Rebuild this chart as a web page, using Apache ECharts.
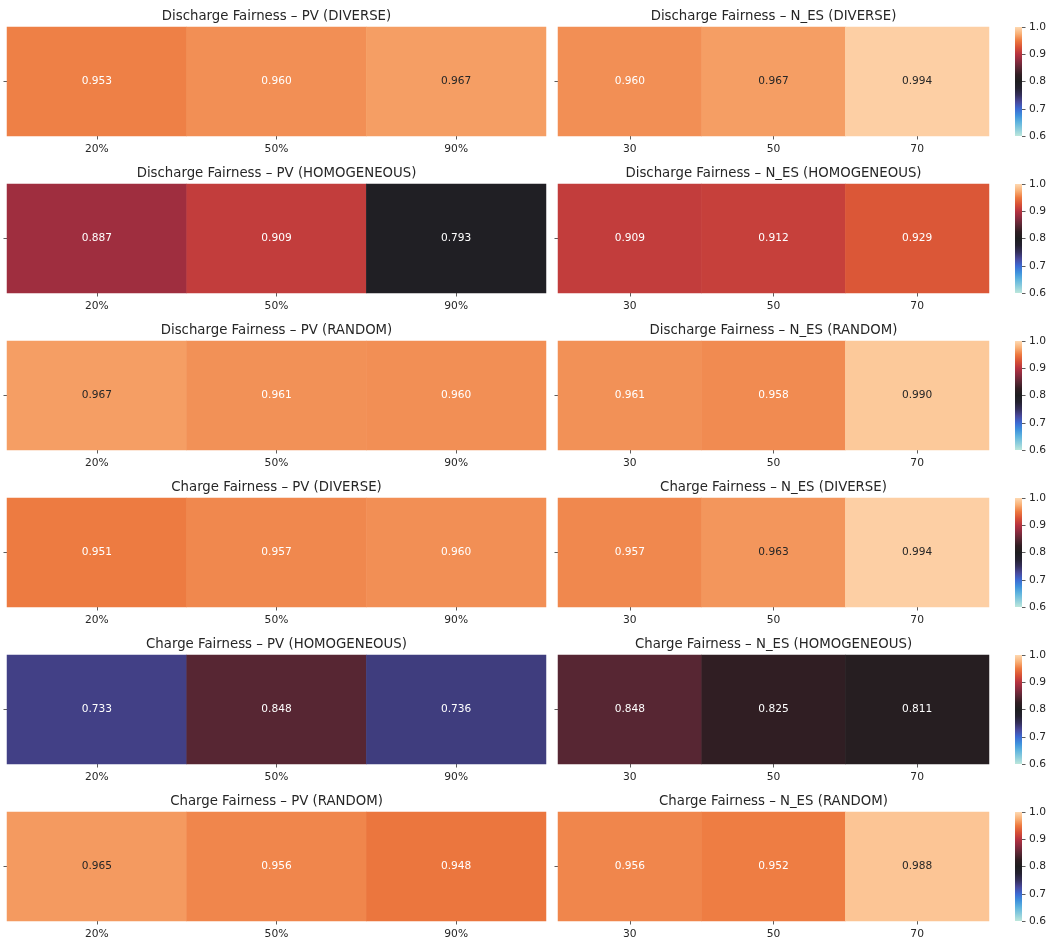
<!DOCTYPE html>
<html>
<head>
<meta charset="utf-8">
<script src="https://cdn.jsdelivr.net/npm/echarts@6/dist/echarts.min.js"></script>
<style>
  html, body { margin: 0; padding: 0; background: #ffffff; }
  #chart { width: 1048px; height: 945px; }
</style>
</head>
<body>
<div id="chart"></div>
<script>
// Category labels
const pvLevels = ['20%', '50%', '90%'];
const nesLevels = ['30', '50', '70'];

// Fairness index per scenario
const dischargePvDiverse = [0.953, 0.960, 0.967];
const dischargeNesDiverse = [0.960, 0.967, 0.994];
const dischargePvHomogeneous = [0.887, 0.909, 0.793];
const dischargeNesHomogeneous = [0.909, 0.912, 0.929];
const dischargePvRandom = [0.967, 0.961, 0.960];
const dischargeNesRandom = [0.961, 0.958, 0.990];
const chargePvDiverse = [0.951, 0.957, 0.960];
const chargeNesDiverse = [0.957, 0.963, 0.994];
const chargePvHomogeneous = [0.733, 0.848, 0.736];
const chargeNesHomogeneous = [0.848, 0.825, 0.811];
const chargePvRandom = [0.965, 0.956, 0.948];
const chargeNesRandom = [0.956, 0.952, 0.988];

// Colour scale range and colourbar ticks
const scaleMin = 0.6;
const scaleMax = 1.0;
const colorbarTicks = [0.6, 0.7, 0.8, 0.9, 1.0];

const rows = [
  { left: ['Discharge Fairness – PV (DIVERSE)', pvLevels, dischargePvDiverse],
    right: ['Discharge Fairness – N_ES (DIVERSE)', nesLevels, dischargeNesDiverse] },
  { left: ['Discharge Fairness – PV (HOMOGENEOUS)', pvLevels, dischargePvHomogeneous],
    right: ['Discharge Fairness – N_ES (HOMOGENEOUS)', nesLevels, dischargeNesHomogeneous] },
  { left: ['Discharge Fairness – PV (RANDOM)', pvLevels, dischargePvRandom],
    right: ['Discharge Fairness – N_ES (RANDOM)', nesLevels, dischargeNesRandom] },
  { left: ['Charge Fairness – PV (DIVERSE)', pvLevels, chargePvDiverse],
    right: ['Charge Fairness – N_ES (DIVERSE)', nesLevels, chargeNesDiverse] },
  { left: ['Charge Fairness – PV (HOMOGENEOUS)', pvLevels, chargePvHomogeneous],
    right: ['Charge Fairness – N_ES (HOMOGENEOUS)', nesLevels, chargeNesHomogeneous] },
  { left: ['Charge Fairness – PV (RANDOM)', pvLevels, chargePvRandom],
    right: ['Charge Fairness – N_ES (RANDOM)', nesLevels, chargeNesRandom] }
];

// "icefire" style diverging palette, evenly spaced from scaleMin to scaleMax
const ICEFIRE = [
  [189, 231, 219], [140, 205, 220], [95, 180, 222], [62, 145, 220],
  [60, 105, 210], [72, 72, 155], [52, 47, 90], [36, 33, 48],
  [30, 30, 32], [48, 30, 35], [90, 39, 52], [137, 43, 63],
  [182, 50, 64], [215, 80, 54], [237, 121, 63], [249, 176, 118],
  [254, 217, 178]
];
const rgbStr = c => 'rgb(' + c.map(Math.round).join(',') + ')';
const paletteColors = ICEFIRE.map(rgbStr);

function paletteAt(v) {
  const t = Math.min(1, Math.max(0, (v - scaleMin) / (scaleMax - scaleMin))) * (ICEFIRE.length - 1);
  const i = Math.min(ICEFIRE.length - 2, Math.floor(t));
  const f = t - i;
  return ICEFIRE[i].map((a, k) => a + (ICEFIRE[i + 1][k] - a) * f);
}
function luminance(rgb) {
  const lin = rgb.map(c => {
    c = c / 255;
    return c <= 0.03928 ? c / 12.92 : Math.pow((c + 0.055) / 1.055, 2.4);
  });
  return 0.2126 * lin[0] + 0.7152 * lin[1] + 0.0722 * lin[2];
}
const annotColor = v => (luminance(paletteAt(v)) > 0.408 ? '#262626' : '#ffffff');

// Layout
const FONT = 'DejaVu Sans';
const ROW_TOP0 = 27, ROW_PITCH = 157, ROW_H = 109;
const PANEL_L = { x: 7, w: 539 };
const PANEL_R = { x: 558, w: 431 };
const CBAR = { x: 1015, w: 7 };

const grid = [], xAxis = [], yAxis = [], series = [], title = [], visualMap = [];
const tickStyle = { color: '#333', width: 0.8 };

function addHeatmap(spec, panel, top) {
  const [text, cats, values] = spec;
  const gi = grid.length;
  grid.push({ left: panel.x, top: top, width: panel.w, height: ROW_H,
    containLabel: false, outerBoundsMode: 'none' });
  xAxis.push({
    type: 'category', gridIndex: gi, data: cats,
    axisLine: { show: false },
    axisTick: { show: true, alignWithLabel: true, length: 3.5, lineStyle: tickStyle },
    axisLabel: { margin: 8, fontSize: 10.7, color: '#262626', fontFamily: FONT },
    splitLine: { show: false }, splitArea: { show: false }
  });
  yAxis.push({
    type: 'category', gridIndex: gi, data: [''],
    axisLine: { show: false },
    axisTick: { show: true, alignWithLabel: true, length: 3.5, lineStyle: tickStyle },
    axisLabel: { show: true, fontSize: 10.5 },
    splitLine: { show: false }, splitArea: { show: false }
  });
  title.push({
    text: text, left: panel.x + panel.w / 2, top: top - 16.5, textAlign: 'center', padding: 0,
    textStyle: { fontSize: 13.3, fontWeight: 'normal', color: '#262626', fontFamily: FONT }
  });
  const si = series.length;
  series.push({
    type: 'heatmap', xAxisIndex: gi, yAxisIndex: gi,
    data: values.map((v, i) => ({ value: [i, 0, v], label: { color: annotColor(v) } })),
    itemStyle: { borderWidth: 0 },
    label: {
      show: true, fontSize: 10.6, fontFamily: FONT,
      formatter: p => p.value[2].toFixed(3)
    },
    emphasis: { disabled: true },
    silent: true
  });
  visualMap.push({
    show: false, type: 'continuous', min: scaleMin, max: scaleMax, dimension: 2,
    seriesIndex: si, inRange: { color: paletteColors }
  });
}

function addColorbar(top) {
  const gi = grid.length;
  grid.push({ left: CBAR.x, top: top, width: CBAR.w, height: ROW_H,
    containLabel: false, outerBoundsMode: 'none' });
  xAxis.push({ type: 'category', gridIndex: gi, data: [''], show: false });
  yAxis.push({
    type: 'value', gridIndex: gi, min: scaleMin, max: scaleMax, interval: 0.1,
    position: 'right',
    axisLine: { show: false },
    axisTick: { show: true, length: 3.5, lineStyle: tickStyle },
    axisLabel: {
      margin: 7, fontSize: 10.7, color: '#262626', fontFamily: FONT,
      formatter: v => (colorbarTicks.some(t => Math.abs(t - v) < 1e-9) ? v.toFixed(1) : '')
    },
    splitLine: { show: false }
  });
  const gradient = new echarts.graphic.LinearGradient(0, 1, 0, 0,
    paletteColors.map((c, i) => ({ offset: i / (paletteColors.length - 1), color: c })));
  series.push({
    type: 'bar', xAxisIndex: gi, yAxisIndex: gi, stack: 'cb' + gi, barWidth: '100%',
    data: [scaleMin], itemStyle: { color: 'rgba(0,0,0,0)' }, silent: true
  });
  series.push({
    type: 'bar', xAxisIndex: gi, yAxisIndex: gi, stack: 'cb' + gi, barWidth: '100%',
    data: [scaleMax - scaleMin], itemStyle: { color: gradient }, silent: true
  });
}

rows.forEach((row, r) => {
  const top = ROW_TOP0 + r * ROW_PITCH;
  addHeatmap(row.left, PANEL_L, top);
  addHeatmap(row.right, PANEL_R, top);
  addColorbar(top);
});

const chart = echarts.init(document.getElementById('chart'), null, { renderer: 'canvas' });
chart.setOption({
  backgroundColor: '#ffffff',
  animation: false,
  title: title,
  grid: grid,
  xAxis: xAxis,
  yAxis: yAxis,
  visualMap: visualMap,
  series: series
});
</script>
</body>
</html>
